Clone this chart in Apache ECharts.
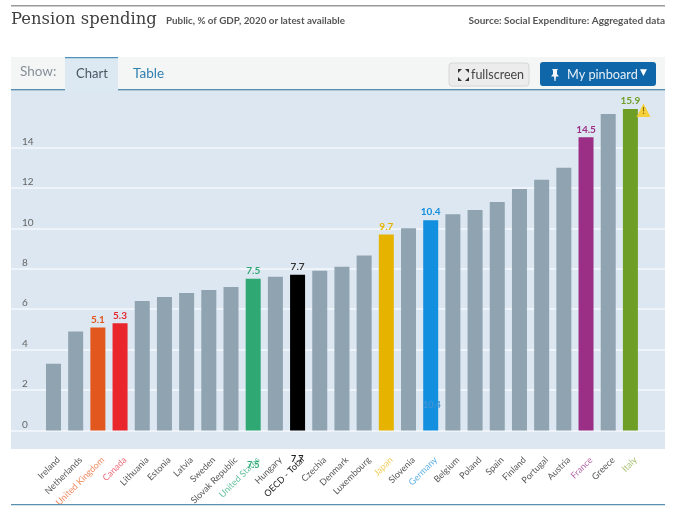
<!DOCTYPE html>
<html><head><meta charset="utf-8">
<style>html,body{margin:0;padding:0;background:#fff}#c{width:680px;height:508px}</style>
<script src="https://cdn.jsdelivr.net/npm/echarts@6/dist/echarts.min.js"></script>
</head><body><div id="c"></div>
<script>
const categories=["Ireland","Netherlands","United Kingdom","Canada","Lithuania","Estonia","Latvia","Sweden","Slovak Republic","United States","Hungary","OECD - Total","Czechia","Denmark","Luxembourg","Japan","Slovenia","Germany","Belgium","Poland","Spain","Finland","Portugal","Austria","France","Greece","Italy"];
const values=[3.3,4.9,5.1,5.3,6.4,6.6,6.8,6.95,7.1,7.5,7.6,7.7,7.9,8.1,8.65,9.7,10.0,10.4,10.7,10.9,11.3,11.95,12.4,13.0,14.5,15.65,15.9];
const highlights={"United Kingdom":"#e2571e","Canada":"#e8262b","United States":"#2fa874","OECD - Total":"#000000","Japan":"#e6b400","Germany":"#128fde","France":"#9b2f86","Italy":"#6e9e26"};
const tickColors={"United Kingdom":"#ee8a5e","Canada":"#ee6a78","United States":"#63c09c","OECD - Total":"#222222","Japan":"#f0cc5a","Germany":"#5fb0e6","France":"#b568a8","Italy":"#a8c070"};
const labelColors={"OECD - Total":"#333333"};
const yTicks=[0,2,4,6,8,10,12,14];
const F='Lato,"Open Sans",sans-serif';
const chart=echarts.init(document.getElementById('c'),null,{renderer:'canvas'});
function T(x,y,text,size,color,extra){extra=extra||{};return {type:'text',x,y,silent:true,z:extra.z||5,style:Object.assign({text,fontSize:size,fill:color,fontFamily:F,textVerticalAlign:'middle'},extra.style||{})};}
function R(x,y,w,h,fill,z){return {type:'rect',silent:true,z:z===undefined?1:z,shape:{x,y,width:w,height:h},style:{fill}};}
function P(points,fill,z){return {type:'polygon',silent:true,z:z||6,shape:{points},style:{fill}};}
chart.setOption({
 animation:false,
 backgroundColor:'#fff',
 graphic:{elements:[
  R(11,5,654,1.5,'#9a9a9a'),
  T(11,20,'Pension spending',16.4,'#3f3f3f',{style:{fontFamily:'"DejaVu Serif","Liberation Serif",serif'}}),
  T(166,21,'Public, % of GDP, 2020 or latest available',9.8,'#555555',{style:{fontWeight:'bold'}}),
  T(665,21,'Source: Social Expenditure: Aggregated data',10,'#555555',{style:{fontWeight:'bold',align:'right',textAlign:'right'}}),
  R(11,57,654,33,'#f4f5f5',-20),
  R(11,89,654,1.5,'#5b8fb0',-19),
  R(11,91,654,358,'#dce7f1',-18),
  R(65,57,53,34,'#dce8f2',-17),
  R(65,57,53,1.2,'#4f93bd',-16),
  T(20,72,'Show:',13.5,'#85909a'),
  T(76,74,'Chart',13,'#4a5560'),
  T(133,74,'Table',13.5,'#2e7fae'),
  {type:'rect',z:3,silent:true,shape:{x:449,y:63,width:80,height:23,r:3},style:{fill:'#ececec',stroke:'#d6d6d6'}},
  T(471,74.5,'fullscreen',12.5,'#444'),
  P([[458,69],[462,69],[458,73]],'#333'),P([[469,69],[465,69],[469,73]],'#333'),
  P([[458,81],[462,81],[458,77]],'#333'),P([[469,81],[465,81],[469,77]],'#333'),
  {type:'rect',z:3,silent:true,shape:{x:540,y:62,width:116,height:24,r:3},style:{fill:'#0f66a8'}},
  P([[552,69],[558,69],[557,70.5],[557,74],[559,76.5],[556,76.5],[555.5,81],[554.5,81],[554,76.5],[551,76.5],[553,74],[553,70.5]],'#f2f6fa'),
  T(567,74.5,'My pinboard',12.7,'#e6f0f8'),
  T(640,73,'▼',9,'#fff',{style:{fontFamily:'"DejaVu Sans"'}}),
  R(11,504,654,1.2,'#5b8fb0'),
  P([[643.5,103.5],[636.5,117],[650.5,117]],'#f6cf3c'),
  T(643.5,111,'!',9,'#8a6d00',{z:7,style:{fontWeight:'bold',align:'center',textAlign:'center'}}),
  T(247,465,'7.5',9,'#2fa874',{z:7,style:{fontWeight:'bold'}}),
  T(291,459.5,'7.7',9,'#222',{z:7,style:{fontWeight:'bold'}}),
  T(423,405,'10.4',9,'#3f95d6',{z:7,style:{fontWeight:'bold'}})
 ]},
 grid:[
  {left:11,right:15,top:107,bottom:77.5,outerBoundsMode:'none'},
  {left:42.4,right:38.5,top:107,bottom:77.5,outerBoundsMode:'none'},
  {left:47.4,right:33.5,top:107,bottom:77.5,outerBoundsMode:'none'}
 ],
 xAxis:[
  {gridIndex:0,type:'value',show:false,min:0,max:1},
  {gridIndex:1,type:'category',data:categories,boundaryGap:true,
   axisLine:{show:false},axisTick:{show:false},axisLabel:{show:false}},
  {gridIndex:2,type:'category',data:categories,boundaryGap:true,
   axisLine:{show:false},axisTick:{show:false},
   axisLabel:{interval:0,rotate:45,margin:28,fontSize:9,fontFamily:F,
    color:(v)=>tickColors[v]||'#555555'}}
 ],
 yAxis:[
  {gridIndex:0,type:'value',min:0,max:16,interval:2,
   axisLine:{show:false},axisTick:{show:false},
   splitLine:{show:true,showMaxLine:false,lineStyle:{color:'#f4f8fb',width:1.5}},
   axisLabel:{inside:true,margin:11,fontSize:10,fontFamily:F,color:'#666',verticalAlign:'bottom',lineHeight:12,
    formatter:v=>yTicks.includes(v)?String(v):''}},
  {gridIndex:1,type:'value',min:0,max:16,interval:2,show:false},
  {gridIndex:2,type:'value',min:0,max:16,interval:2,show:false}
 ],
 series:[{type:'bar',xAxisIndex:1,yAxisIndex:1,z:3,barWidth:15,
  data:categories.map((c,i)=>({value:values[i],
   itemStyle:{color:highlights[c]||'#8fa3b0'},
   label:highlights[c]?{show:true,position:'top',distance:3,formatter:values[i].toFixed(1),fontSize:10,fontWeight:'bold',fontFamily:F,color:labelColors[c]||highlights[c]}:{show:false}}))
 }]
});
</script></body></html>
